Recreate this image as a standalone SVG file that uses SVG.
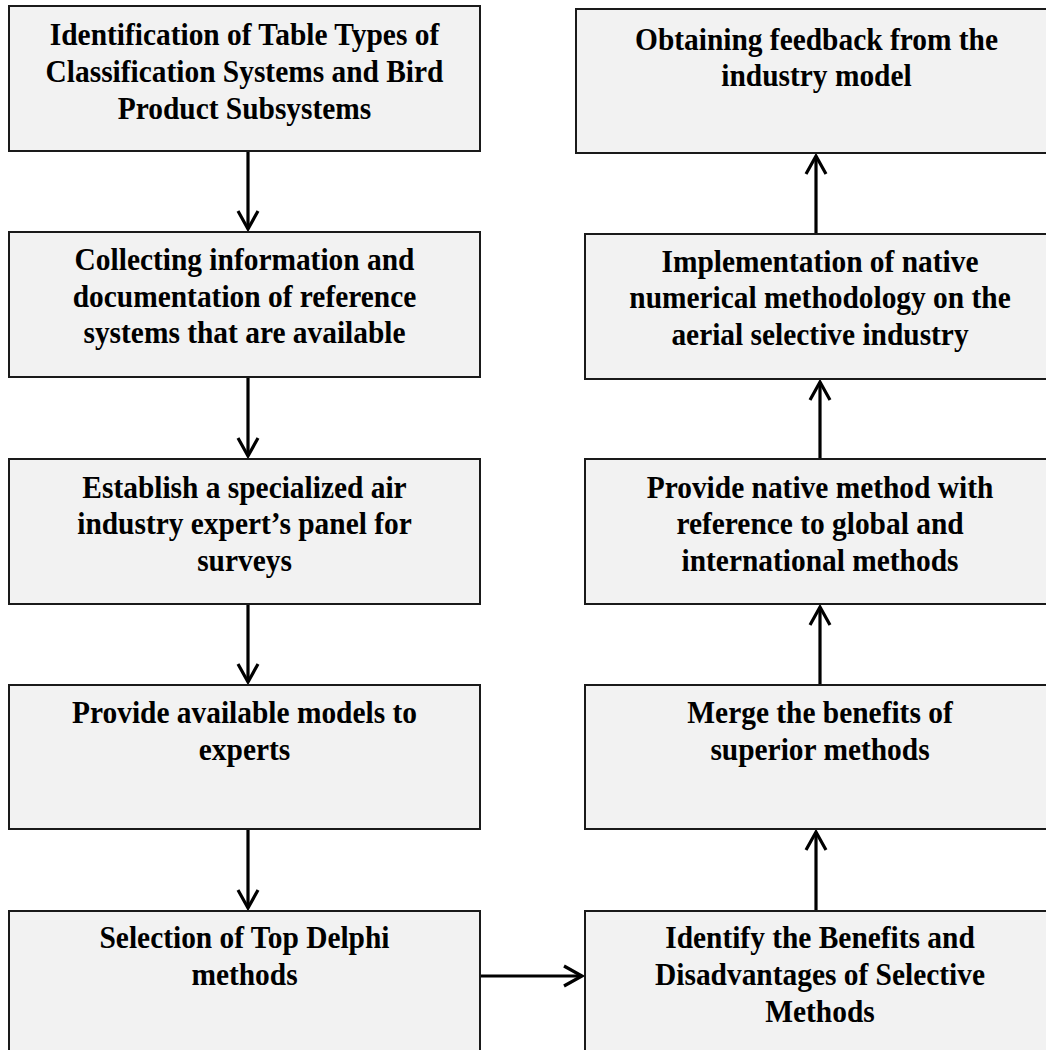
<svg xmlns="http://www.w3.org/2000/svg" width="1046" height="1050" viewBox="0 0 1046 1050">
<style>
.box{fill:#f2f2f2;stroke:#1a1a1a;stroke-width:2}
.t{font-family:"Liberation Serif","Times New Roman",serif;font-weight:bold;font-size:32.5px;fill:#000;text-anchor:middle}
.c{stroke:#000;stroke-width:3.2;fill:none}
</style>
<defs>
<marker id="ah" viewBox="-22 -13 26 26" refX="0" refY="0" markerWidth="26" markerHeight="26" markerUnits="userSpaceOnUse" orient="auto">
<path d="M-18,-10 L0,0 L-18,10" fill="none" stroke="#000" stroke-width="3.2" stroke-linejoin="miter"/>
</marker>
</defs>
<rect width="1046" height="1050" fill="#fff"/>
<g id="connectors">
<line class="c" x1="248" y1="151" x2="248" y2="229" marker-end="url(#ah)"/>
<line class="c" x1="248" y1="377" x2="248" y2="456" marker-end="url(#ah)"/>
<line class="c" x1="248" y1="604" x2="248" y2="682" marker-end="url(#ah)"/>
<line class="c" x1="248" y1="829" x2="248" y2="908" marker-end="url(#ah)"/>
<line class="c" x1="480" y1="976" x2="582" y2="976" marker-end="url(#ah)"/>
<line class="c" x1="816" y1="911" x2="816" y2="832" marker-end="url(#ah)"/>
<line class="c" x1="820" y1="685" x2="820" y2="607" marker-end="url(#ah)"/>
<line class="c" x1="820" y1="459" x2="820" y2="382" marker-end="url(#ah)"/>
<line class="c" x1="816" y1="234" x2="816" y2="156" marker-end="url(#ah)"/>
</g>
<g id="n1">
<rect class="box" x="9" y="6" width="471" height="145"/>
<text class="t" transform="translate(244.5 45) scale(0.905 1)">Identification of Table Types of</text>
<text class="t" transform="translate(244.5 82) scale(0.905 1)">Classification Systems and Bird</text>
<text class="t" transform="translate(244.5 119) scale(0.905 1)">Product Subsystems</text>
</g>
<g id="n2">
<rect class="box" x="9" y="232" width="471" height="145"/>
<text class="t" transform="translate(244.5 270) scale(0.905 1)">Collecting information and</text>
<text class="t" transform="translate(244.5 307) scale(0.905 1)">documentation of reference</text>
<text class="t" transform="translate(244.5 343) scale(0.905 1)">systems that are available</text>
</g>
<g id="n3">
<rect class="box" x="9" y="459" width="471" height="145"/>
<text class="t" transform="translate(244.5 498) scale(0.905 1)">Establish a specialized air</text>
<text class="t" transform="translate(244.5 534) scale(0.905 1)">industry expert’s panel for</text>
<text class="t" transform="translate(244.5 571) scale(0.905 1)">surveys</text>
</g>
<g id="n4">
<rect class="box" x="9" y="685" width="471" height="144"/>
<text class="t" transform="translate(244.5 723) scale(0.905 1)">Provide available models to</text>
<text class="t" transform="translate(244.5 760) scale(0.905 1)">experts</text>
</g>
<g id="n5">
<rect class="box" x="9" y="911" width="471" height="150"/>
<text class="t" transform="translate(244.5 948) scale(0.905 1)">Selection of Top Delphi</text>
<text class="t" transform="translate(244.5 985) scale(0.905 1)">methods</text>
</g>
<g id="n6">
<rect class="box" x="585" y="911" width="470" height="150"/>
<text class="t" transform="translate(820 948) scale(0.905 1)">Identify the Benefits and</text>
<text class="t" transform="translate(820 985) scale(0.905 1)">Disadvantages of Selective</text>
<text class="t" transform="translate(820 1022) scale(0.905 1)">Methods</text>
</g>
<g id="n7">
<rect class="box" x="585" y="685" width="470" height="144"/>
<text class="t" transform="translate(820 723) scale(0.905 1)">Merge the benefits of</text>
<text class="t" transform="translate(820 760) scale(0.905 1)">superior methods</text>
</g>
<g id="n8">
<rect class="box" x="585" y="459" width="470" height="145"/>
<text class="t" transform="translate(820 498) scale(0.905 1)">Provide native method with</text>
<text class="t" transform="translate(820 534) scale(0.905 1)">reference to global and</text>
<text class="t" transform="translate(820 571) scale(0.905 1)">international methods</text>
</g>
<g id="n9">
<rect class="box" x="585" y="234" width="470" height="145"/>
<text class="t" transform="translate(820 272) scale(0.905 1)">Implementation of native</text>
<text class="t" transform="translate(820 308) scale(0.905 1)">numerical methodology on the</text>
<text class="t" transform="translate(820 345) scale(0.905 1)">aerial selective industry</text>
</g>
<g id="n10">
<rect class="box" x="576" y="9" width="481" height="144"/>
<text class="t" transform="translate(816.5 50) scale(0.905 1)">Obtaining feedback from the</text>
<text class="t" transform="translate(816.5 86) scale(0.905 1)">industry model</text>
</g>
</svg>
